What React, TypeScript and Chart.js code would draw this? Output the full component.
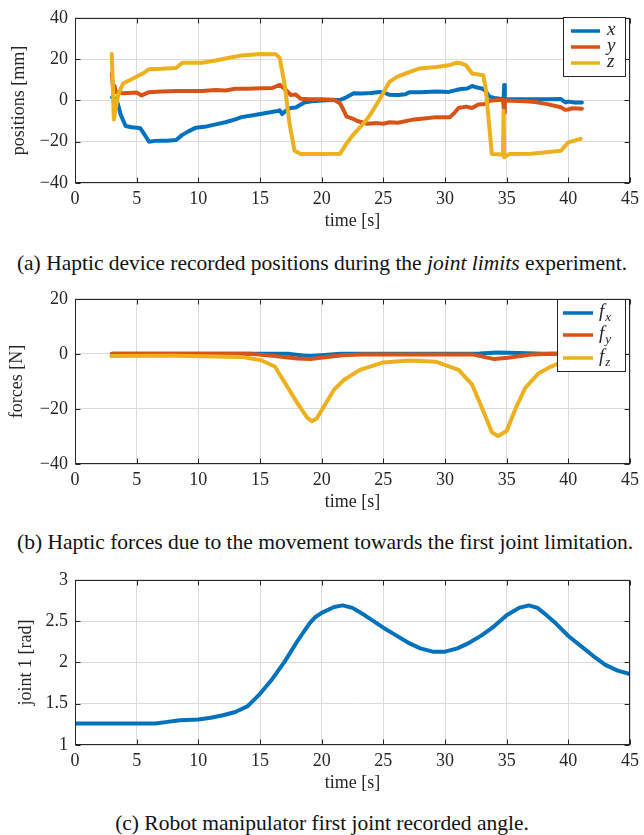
import React, { useEffect, useRef } from "react";
import { Chart, registerables } from "chart.js";
Chart.register(...registerables);

const BLUE = "#0072BD";
const RED = "#D95319";
const YELLOW = "#EDB120";
const INK = "#262626";
const GRID = "#dcdcdc";
const SERIF = "'Liberation Serif', 'Times New Roman', serif";

// shared time axis
const timeMin = 0;
const timeMax = 45;
const timeStep = 5;

// (a) haptic device positions [mm]
const posX: [number, number][] = [
  [3.0, 1.5], [3.2, 1.0], [3.4, 0], [3.7, -6.8], [4.1, -12.4], [4.6, -13], [5.0, -13.2], [5.3, -13.5],
  [5.7, -17.1], [6.0, -20.0], [6.5, -19.6], [7.0, -19.5], [7.5, -19.5], [8.2, -19.2], [8.7, -16.7],
  [9.2, -15.0], [9.8, -13.2], [10.5, -12.8], [11.4, -11.6], [12.2, -10.6], [13.0, -9.2], [13.5, -8.1],
  [14.2, -7.4], [14.8, -6.8], [15.6, -6.0], [16.3, -5.3], [16.6, -4.8], [16.8, -6.6], [17.1, -5.0],
  [17.5, -3.7], [17.9, -3.4], [18.2, -2.4], [18.6, -1.0], [19.2, -0.4], [20.0, 0], [21.0, 0.2],
  [21.5, 0.3], [22.0, 1.5], [22.6, 3.5], [23.2, 3.4], [24.0, 3.6], [24.7, 4.1], [25.1, 3.7], [25.5, 2.7],
  [26.2, 2.6], [26.8, 3.0], [27.1, 4.0], [28.0, 4.0], [29.3, 4.3], [30.3, 4.1], [30.9, 5.0], [31.3, 5.5],
  [31.8, 5.8], [32.2, 7.0], [32.6, 6.2], [33.0, 5.8], [33.3, 4.5], [33.6, 1.8], [34.0, 1.2], [34.6, 0.7],
  [34.75, 0.7], [34.8, 7.5], [34.85, 0.8], [35.2, 0.5], [36.0, 0.5], [37.3, 0.5], [38.5, 0.6], [39.4, 0.7],
  [39.6, -0.3], [39.8, -1.0], [40.0, -0.6], [40.5, -1.0], [41.1, -1.0],
];
const posY: [number, number][] = [
  [2.98, 13.0], [3.1, 5.0], [3.2, 7.0], [3.3, 4.1], [3.9, 3.5], [5.0, 3.8], [5.4, 2.4], [6.0, 4.0],
  [7.0, 4.3], [8.2, 4.6], [9.0, 4.5], [10.3, 4.6], [11.4, 5.0], [12.2, 4.8], [13.0, 5.6], [14.0, 5.7],
  [15.1, 5.9], [16.0, 6.0], [16.6, 7.6], [16.9, 6.0], [17.2, 4.5], [17.5, 2.6], [17.9, 2.8], [18.3, 0.8],
  [19.0, 0.6], [20.0, 0.5], [21.0, 0.3], [21.5, -1.5], [21.8, -5.0], [22.0, -7.7], [22.5, -8.8],
  [22.9, -10.0], [23.7, -11.3], [24.5, -11.0], [25.0, -11.3], [25.5, -10.6], [26.2, -10.8], [27.0, -9.8],
  [27.5, -9.2], [28.5, -8.6], [29.3, -8.1], [30.4, -8.1], [30.7, -6.5], [31.1, -3.7], [31.7, -3.0],
  [32.2, -3.7], [32.7, -2.0], [33.2, -1.8], [33.6, -0.2], [34.3, 0.2], [34.7, 0.3], [34.8, -6.0],
  [34.85, 0.0], [35.5, -0.2], [36.5, -0.4], [37.3, -0.8], [38.3, -1.8], [39.4, -3.3], [39.7, -4.5],
  [40.0, -4.4], [40.3, -3.8], [41.1, -4.0],
];
const posZ: [number, number][] = [
  [2.98, 22.5], [3.15, -9.2], [3.5, 2.7], [3.9, 8.2], [4.7, 10.6], [5.5, 13.0], [6.0, 15.1], [7.0, 15.3],
  [8.2, 15.7], [8.7, 18.2], [10.3, 18.2], [11.4, 19.3], [12.4, 20.5], [13.5, 21.7], [15.1, 22.5],
  [16.3, 22.3], [16.6, 20.5], [17.0, 7.6], [17.4, -11.5], [17.8, -24.4], [18.3, -26.0], [20.0, -26.0],
  [21.5, -25.8], [22.0, -21.0], [22.6, -16.3], [23.2, -12.4], [23.7, -9.0], [24.2, -4.5], [24.9, 2.6],
  [25.5, 9.0], [26.1, 11.4], [27.1, 13.7], [27.9, 15.4], [29.3, 16.2], [30.3, 17.0], [30.9, 18.2],
  [31.3, 18.0], [31.7, 17.0], [32.2, 13.0], [33.1, 12.2], [33.3, 6.0], [33.8, -26.0], [34.7, -26.2],
  [34.75, -5.0], [34.8, -27.5], [35.2, -26.0], [37.0, -25.8], [39.4, -24.4], [40.0, -20.3], [41.0, -18.6],
];

// (b) haptic forces [N]
const forceX: [number, number][] = [
  [3.0, 0], [10.0, 0], [16.0, 0], [17.4, 0], [18.5, -0.6], [19.1, -0.8], [20.0, -0.5], [21.5, 0],
  [30.0, 0], [32.8, 0.1], [34.3, 0.5], [36.0, 0.3], [38.0, 0], [41.0, 0],
];
const forceY: [number, number][] = [
  [3.0, 0], [10.0, 0], [14.3, 0], [16.2, -0.8], [18.0, -1.7], [19.1, -1.9], [20.1, -1.3], [21.7, -0.5],
  [23.1, -0.2], [30.0, -0.2], [32.2, -0.2], [34.0, -1.9], [35.1, -1.4], [37.0, -0.2], [38.6, 0], [41.0, 0],
];
const forceZ: [number, number][] = [
  [2.94, -0.8], [8.0, -0.7], [13.5, -1.1], [15.1, -2.3], [16.2, -4.6], [17.2, -11.8], [18.0, -17.7],
  [18.8, -23.0], [19.2, -24.5], [19.6, -23.5], [20.4, -17.5], [21.0, -13.0], [21.8, -9.5], [23.1, -5.8],
  [25.0, -3.1], [27.1, -2.4], [29.3, -2.9], [31.1, -5.8], [32.2, -11.2], [33.1, -20.7], [33.8, -28.5],
  [34.3, -29.8], [35.0, -28.0], [35.7, -20.1], [36.5, -12.4], [37.6, -7.0], [38.6, -4.6], [40.0, -2.0],
  [41.0, -1.0],
];

// (c) robot joint 1 angle [rad]
const joint1: [number, number][] = [
  [0, 1.26], [5, 1.26], [6.5, 1.26], [7.5, 1.28], [8.5, 1.30], [10, 1.31], [11, 1.33], [12, 1.36],
  [13, 1.40], [14, 1.47], [15, 1.62], [16, 1.80], [17, 2.01], [18, 2.25], [19, 2.47], [19.5, 2.55],
  [20, 2.60], [21, 2.67], [21.7, 2.69], [22.5, 2.66], [23.5, 2.57], [25, 2.42], [26, 2.33], [27, 2.24],
  [28, 2.17], [29, 2.13], [30, 2.13], [31, 2.17], [32, 2.24], [33, 2.33], [34, 2.44], [35, 2.57],
  [36, 2.66], [36.8, 2.69], [37.5, 2.66], [38, 2.60], [39, 2.47], [40, 2.32], [41, 2.20], [42, 2.08],
  [43, 1.97], [44, 1.90], [45, 1.86],
];

const minus = (v: number | string) => String(v).replace("-", "\u2212");

const pts = (arr: [number, number][]) => arr.map(([x, y]) => ({ x, y }));

const framePlugin = {
  id: "frame",
  afterDatasetsDraw(chart: any, _args: any, opts: any) {
    const { ctx, chartArea } = chart;
    const xs = chart.scales.x;
    const ys = chart.scales.y;
    const L = Math.round(chartArea.left) + 0.5;
    const R = Math.round(chartArea.right) - 0.5;
    const T = Math.round(chartArea.top) + 0.5;
    const B = Math.round(chartArea.bottom) - 0.5;
    const tl = 5;
    ctx.save();
    ctx.strokeStyle = INK;
    ctx.lineWidth = 1;
    ctx.beginPath();
    xs.ticks.forEach((t: any) => {
      const p = Math.round(xs.getPixelForValue(t.value)) + 0.5;
      ctx.moveTo(p, B);
      ctx.lineTo(p, B - tl);
      ctx.moveTo(p, T);
      ctx.lineTo(p, T + tl);
    });
    ys.ticks.forEach((t: any) => {
      const p = Math.round(ys.getPixelForValue(t.value)) + 0.5;
      ctx.moveTo(L, p);
      ctx.lineTo(L + tl, p);
      ctx.moveTo(R, p);
      ctx.lineTo(R - tl, p);
    });
    ctx.stroke();
    ctx.strokeRect(L, T, R - L, B - T);

    const lg = opts && opts.box;
    if (lg) {
      ctx.fillStyle = "#ffffff";
      ctx.fillRect(lg.x, lg.y, lg.w, lg.h);
      ctx.strokeStyle = INK;
      ctx.lineWidth = 1;
      ctx.strokeRect(lg.x + 0.5, lg.y + 0.5, lg.w, lg.h);
      lg.items.forEach((it: any, i: number) => {
        const y = lg.rows[i];
        ctx.strokeStyle = it.color;
        ctx.lineWidth = 3.5;
        ctx.beginPath();
        ctx.moveTo(lg.x0, y);
        ctx.lineTo(lg.x1, y);
        ctx.stroke();
        ctx.fillStyle = INK;
        ctx.textBaseline = "alphabetic";
        ctx.textAlign = "left";
        ctx.font = `italic 19px ${SERIF}`;
        ctx.fillText(it.label, lg.tx, y + 4);
        if (it.sub) {
          const w = ctx.measureText(it.label).width;
          ctx.font = `italic 13px ${SERIF}`;
          ctx.fillText(it.sub, lg.tx + w + 1, y + 8);
        }
      });
    }
    ctx.restore();
  },
};

function buildConfig(p: {
  datasets: any[];
  yMin: number;
  yMax: number;
  yStep: number;
  yTitle: string;
  yTitlePad: number;
  box?: any;
}) {
  const tickFont = { family: SERIF, size: 18 };
  return {
    type: "line",
    data: { datasets: p.datasets },
    options: {
      responsive: false,
      maintainAspectRatio: false,
      animation: false,
      events: [],
      layout: { padding: { top: 15, left: 0, right: 0, bottom: 0 } },
      elements: { point: { radius: 0 }, line: { tension: 0 } },
      plugins: {
        legend: { display: false },
        tooltip: { enabled: false },
        frame: { box: p.box },
      },
      scales: {
        x: {
          type: "linear",
          min: timeMin,
          max: timeMax,
          afterFit: (s: any) => {
            s.height = 50;
          },
          ticks: {
            stepSize: timeStep,
            autoSkip: false,
            maxRotation: 0,
            padding: 5,
            color: INK,
            font: tickFont,
            callback: (v: number) => minus(v),
          },
          grid: { color: GRID, drawTicks: false, lineWidth: 1 },
          border: { display: false },
          title: {
            display: true,
            text: "time [s]",
            color: INK,
            font: { family: SERIF, size: 18, lineHeight: 1.2 },
            padding: { top: 0, bottom: 1 },
          },
        },
        y: {
          type: "linear",
          min: p.yMin,
          max: p.yMax,
          afterFit: (s: any) => {
            s.width = 75;
          },
          ticks: {
            stepSize: p.yStep,
            autoSkip: false,
            padding: 7,
            color: INK,
            font: tickFont,
            callback: (v: number) => minus(v),
          },
          grid: { color: GRID, drawTicks: false, lineWidth: 1 },
          border: { display: false },
          title: {
            display: true,
            text: p.yTitle,
            color: INK,
            font: { family: SERIF, size: 18, lineHeight: 1.2 },
            padding: { top: p.yTitlePad, bottom: 0 },
          },
        },
      },
    },
    plugins: [framePlugin],
  } as any;
}

const line = (label: string, data: [number, number][], color: string, order: number, width: number) => ({
  label,
  data: pts(data),
  borderColor: color,
  backgroundColor: color,
  borderWidth: width,
  borderJoinStyle: "round",
  borderCapStyle: "round",
  fill: false,
  order,
});

const configA = () =>
  buildConfig({
    datasets: [
      line("x", posX, BLUE, 2, 4),
      line("y", posY, RED, 1, 4),
      line("z", posZ, YELLOW, 0, 4),
    ],
    yMin: -40,
    yMax: 40,
    yStep: 20,
    yTitle: "positions [mm]",
    yTitlePad: 8,
    box: {
      x: 563, y: 17, w: 62, h: 59,
      rows: [31, 47, 63],
      x0: 571, x1: 600, tx: 607,
      items: [
        { label: "x", color: BLUE },
        { label: "y", color: RED },
        { label: "z", color: YELLOW },
      ],
    },
  });

const configB = () =>
  buildConfig({
    datasets: [
      line("fx", forceX, BLUE, 2, 4),
      line("fy", forceY, RED, 1, 4),
      line("fz", forceZ, YELLOW, 0, 4),
    ],
    yMin: -40,
    yMax: 20,
    yStep: 20,
    yTitle: "forces [N]",
    yTitlePad: 6,
    box: {
      x: 557, y: 18, w: 68, h: 72,
      rows: [32, 54, 77],
      x0: 563, x1: 593, tx: 599,
      items: [
        { label: "f", sub: "x", color: BLUE },
        { label: "f", sub: "y", color: RED },
        { label: "f", sub: "z", color: YELLOW },
      ],
    },
  });

const configC = () =>
  buildConfig({
    datasets: [line("joint 1", joint1, BLUE, 0, 4)],
    yMin: 1,
    yMax: 3,
    yStep: 0.5,
    yTitle: "joint 1 [rad]",
    yTitlePad: 15,
  });

function ChartBox({ make, top, height }: { make: () => any; top: number; height: number }) {
  const ref = useRef<HTMLCanvasElement>(null);
  useEffect(() => {
    const chart = new Chart(ref.current as HTMLCanvasElement, make());
    return () => chart.destroy();
  }, []);
  return (
    <canvas
      ref={ref}
      width={644}
      height={height}
      style={{ position: "absolute", left: 0, top, width: 644, height, display: "block" }}
    />
  );
}

const captionStyle: React.CSSProperties = {
  position: "absolute",
  left: 0,
  width: 644,
  textAlign: "center",
  whiteSpace: "nowrap",
  fontFamily: SERIF,
  fontSize: 21.5,
  lineHeight: "24px",
  color: "#111",
};

export default function App() {
  useEffect(() => {
    document.body.style.margin = "0";
  }, []);
  return (
    <div style={{ position: "relative", width: 644, height: 835, overflow: "hidden", background: "#fff" }}>
      <ChartBox make={configA} top={0} height={233} />
      <div style={{ ...captionStyle, top: 251 }}>
        (a) Haptic device recorded positions during the <i>joint limits</i> experiment.
      </div>
      <ChartBox make={configB} top={281} height={233} />
      <div style={{ ...captionStyle, top: 530, left: 17, width: "auto", textAlign: "left" }}>
        (b) Haptic forces due to the movement towards the first joint limitation.
      </div>
      <ChartBox make={configC} top={562} height={233} />
      <div style={{ ...captionStyle, top: 811 }}>(c) Robot manipulator first joint recorded angle.</div>
    </div>
  );
}
